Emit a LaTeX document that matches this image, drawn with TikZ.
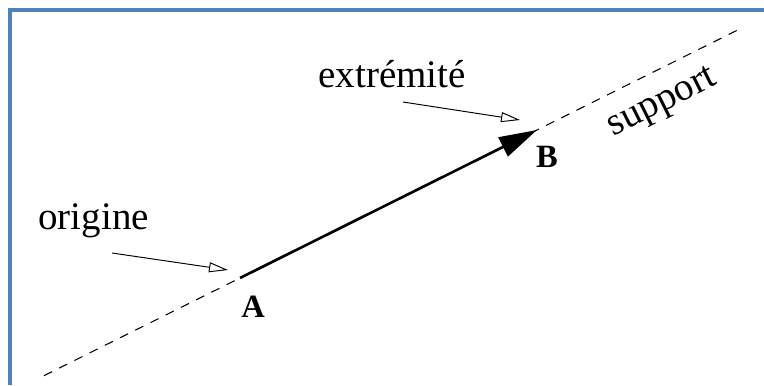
\documentclass[tikz,border=0pt]{standalone}
\usepackage{fontspec}
\setmainfont{Liberation Serif}
\usetikzlibrary{calc, positioning}
\usetikzlibrary{arrows.meta}
\definecolor{cadre}{RGB}{79,129,189}

\begin{document}
\begin{tikzpicture}[
  support/.style={line width=0.6pt, dash pattern=on 0.18cm off 0.16cm},
  vecteur/.style={line width=1.5pt, -{Triangle[length=0.76cm, width=0.42cm]}},
  fleche/.style={line width=0.55pt, -{Triangle[open, length=0.38cm, width=0.2cm]}},
  mot/.style={inner sep=0pt, font=\fontsize{22.2}{26}\selectfont},
  lettre/.style={inner sep=0pt, font=\fontsize{18.5}{22}\selectfont\bfseries}
]
\useasboundingbox (0,0) rectangle (15.28,7.7);
\def\W{15.28}
\def\H{7.7}

% cadre
\draw[cadre, line width=2.4pt] (0.2,0) -- (0.2,7.5) -- (\W,7.5);

\coordinate (A) at (4.8,2.14);
\coordinate (B) at (10.74,5.1);

% droite support
\coordinate (S1) at ($(A)!-0.66!(B)$);
\coordinate (S2) at ($(A)!1.677!(B)$);
\draw[support] (S1) -- (S2);

% vecteur AB
\draw[vecteur] (A) -- (B);

\node[lettre, anchor=base] (lA) at (5.06,1.36) {A};
\node[lettre, anchor=base] (lB) at (10.94,4.36) {B};

% legendes
\node[mot, anchor=base west] (orig) at (0.76,3.12) {origine};
\node[mot, anchor=base west] (extr) at (6.36,5.96) {extrémité};
\node[mot, rotate=26.6] (supp) at (13.26,5.62) {support};

\coordinate (oQ) at (2.24,2.64);
\coordinate (oT) at (4.56,2.3);
\coordinate (eQ) at (8.06,5.66);
\coordinate (eT) at (10.4,5.3);

\draw[fleche] (oQ) -- (oT);
\draw[fleche] (eQ) -- (eT);
\end{tikzpicture}
\end{document}
